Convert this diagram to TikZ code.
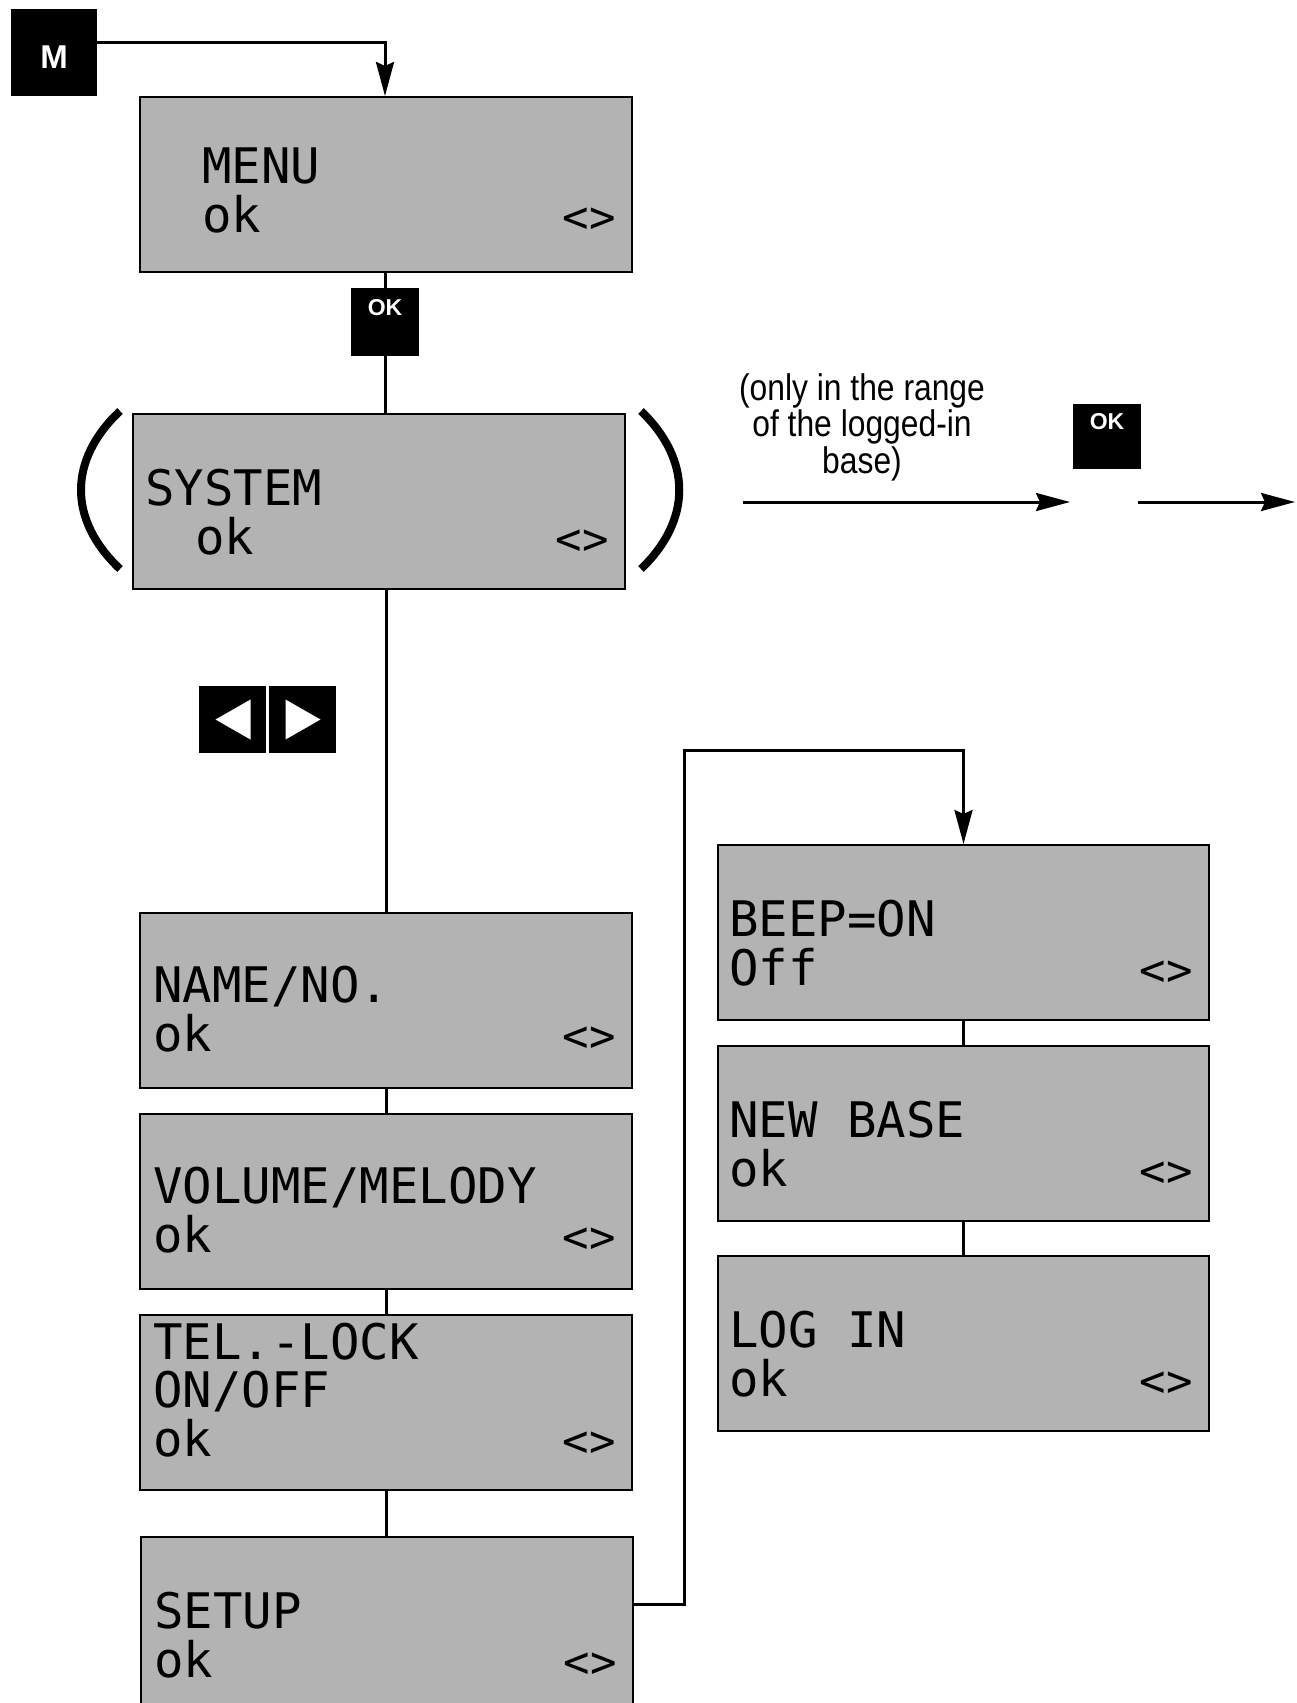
\documentclass[tikz,border=0pt]{standalone}
\usepackage{fontspec}
\setmainfont{Liberation Sans}
\newfontfamily\lcdfam{DejaVu Sans Mono}
\newfontfamily\btnfam{Liberation Sans}
\newfontfamily\notefam{Liberation Sans}[FakeStretch=0.86]
\usetikzlibrary{arrows.meta,calc}
\definecolor{lcdgray}{RGB}{179,179,179}
\begin{document}
\begin{tikzpicture}[x=1pt,y=-1pt,
  lcd/.style={draw=black, line width=2pt, fill=lcdgray, minimum width=492pt, minimum height=175pt, inner sep=0pt},
  lcdtxt/.style={font={\lcdfam\fontsize{49}{49}\selectfont}, anchor=base west, inner sep=0pt},
  lcdarr/.style={font={\lcdfam\fontsize{44}{44}\selectfont}, anchor=base east, inner sep=0pt},
  btn/.style={fill=black, draw=none, text=white, inner sep=0pt},
  okbtn/.style={btn, font={\btnfam\bfseries\fontsize{23}{23}\selectfont}, minimum width=68pt, text height=16pt, text depth=30pt},
  conn/.style={line width=3pt},
  arr/.style={conn, -{Stealth[length=34pt,width=18pt,inset=4pt]}},
  paren/.style={line width=8pt}
]
\useasboundingbox (0,0) rectangle (1297,1703);

% M button
\node[btn, minimum width=86pt, minimum height=87pt, font={\btnfam\bfseries\fontsize{33}{33}\selectfont}, text height=24pt, text depth=0pt,
  label={[name=mlabel, text=white, inner sep=0pt, font={\btnfam\bfseries\fontsize{33}{33}\selectfont}, text height=24pt, text depth=0pt, yshift=-4pt]center:M}] (mbtn) at (54,52.5) {};

% LCD boxes
\node[lcd] (menu) at (386,184.5) {};
\node[lcd] (system) at (379,501.5) {};
\node[lcd] (name) at (386,1000.5) {};
\node[lcd] (vol) at (386,1201.5) {};
\node[lcd] (tel) at (386,1402) {};
\node[lcd] (setup) at (387,1624.5) {};
\node[lcd, minimum width=491pt] (beep) at (963.5,932.5) {};
\node[lcd, minimum width=491pt] (newbase) at (963.5,1133.5) {};
\node[lcd, minimum width=491pt] (login) at (963.5,1343.5) {};

% OK buttons
\node[okbtn, minimum height=68pt] (ok1) at (385,322) {OK};
\node[okbtn, minimum height=65pt] (ok2) at (1107,436.5) {OK};

% arrow buttons
\node[btn, minimum width=67pt, minimum height=67pt] (larr) at (232.5,719.5) {};
\node[btn, minimum width=67pt, minimum height=67pt] (rarr) at (302.5,719.5) {};
\fill[white] ($(larr.center)+(-17,0)$) -- ++(35,-20) -- ++(0,40) -- cycle;
\fill[white] ($(rarr.center)+(18,0)$) -- ++(-35,-20) -- ++(0,40) -- cycle;

% texts
\node[lcdtxt] (t-menu1) at ($(menu.north west)+(63,87)$) {MENU};
\node[lcdtxt] (t-menu2) at ($(menu.north west)+(63,136)$) {ok};
\node[lcdarr] (t-menu3) at ($(menu.north east)+(-17,136)$) {<>};

\node[lcdtxt] (t-sys1) at ($(system.north west)+(13,92)$) {SYSTEM};
\node[lcdtxt] (t-sys2) at ($(system.north west)+(63,141)$) {ok};
\node[lcdarr] (t-sys3) at ($(system.north east)+(-17,141)$) {<>};

\node[lcdtxt] (t-name1) at ($(name.north west)+(14,90)$) {NAME/NO.};
\node[lcdtxt] (t-name2) at ($(name.north west)+(14,139)$) {ok};
\node[lcdarr] (t-name3) at ($(name.north east)+(-17,139)$) {<>};

\node[lcdtxt] (t-vol1) at ($(vol.north west)+(14,90)$) {VOLUME/MELODY};
\node[lcdtxt] (t-vol2) at ($(vol.north west)+(14,139)$) {ok};
\node[lcdarr] (t-vol3) at ($(vol.north east)+(-17,139)$) {<>};

\node[lcdtxt] (t-tel1) at ($(tel.north west)+(14,46)$) {TEL.-LOCK};
\node[lcdtxt] (t-tel2) at ($(tel.north west)+(14,94)$) {ON/OFF};
\node[lcdtxt] (t-tel3) at ($(tel.north west)+(14,143)$) {ok};
\node[lcdarr] (t-tel4) at ($(tel.north east)+(-17,143)$) {<>};

\node[lcdtxt] (t-set1) at ($(setup.north west)+(14,92)$) {SETUP};
\node[lcdtxt] (t-set2) at ($(setup.north west)+(14,141)$) {ok};
\node[lcdarr] (t-set3) at ($(setup.north east)+(-17,141)$) {<>};

\node[lcdtxt] (t-beep1) at ($(beep.north west)+(12,92)$) {BEEP=ON};
\node[lcdtxt] (t-beep2) at ($(beep.north west)+(12,141)$) {Off};
\node[lcdarr] (t-beep3) at ($(beep.north east)+(-17,141)$) {<>};

\node[lcdtxt] (t-nb1) at ($(newbase.north west)+(12,92)$) {NEW BASE};
\node[lcdtxt] (t-nb2) at ($(newbase.north west)+(12,141)$) {ok};
\node[lcdarr] (t-nb3) at ($(newbase.north east)+(-17,141)$) {<>};

\node[lcdtxt] (t-log1) at ($(login.north west)+(12,92)$) {LOG IN};
\node[lcdtxt] (t-log2) at ($(login.north west)+(12,141)$) {ok};
\node[lcdarr] (t-log3) at ($(login.north east)+(-17,141)$) {<>};

% note
\node[font={\notefam\fontsize{37}{36.5}\selectfont}, align=center, anchor=north, inner sep=0pt] (note) at (862,373) {(only in the range\\of the logged-in\\base)};

% parentheses
\draw[paren] (120,411) .. controls (68,460) and (68,520) .. (120,569);
\draw[paren] (641,411) .. controls (692,460) and (692,520) .. (641,569);

% connectors
\draw[arr] ($(mbtn.north east)+(0,34)$) -| (ok1.north |- menu.north);
\draw[conn] (ok1.north |- menu.south) -- (ok1.north);
\draw[conn] (ok1.south) -- (ok1.south |- system.north);
\draw[conn] (name.north |- system.south) -- (name.north);
\draw[conn] (name.south) -- (vol.north);
\draw[conn] (vol.south) -- (tel.north);
\draw[conn] (tel.south) -- (tel.south |- setup.north);
\coordinate (r1) at (684,1604);
\coordinate (r2) at (963.5,750);
\draw[arr] (setup.east |- r1) -- (r1) |- (r2) -- (beep.north);
\draw[conn] (beep.south) -- (newbase.north);
\draw[conn] (newbase.south) -- (login.north);

\coordinate (a1) at (743,502);
\coordinate (a2) at (1070,502);
\coordinate (a3) at (1138,502);
\coordinate (a4) at (1295,502);
\draw[arr] (a1) -- (a2);
\draw[arr] (a3) -- (a4);
\end{tikzpicture}
\end{document}
